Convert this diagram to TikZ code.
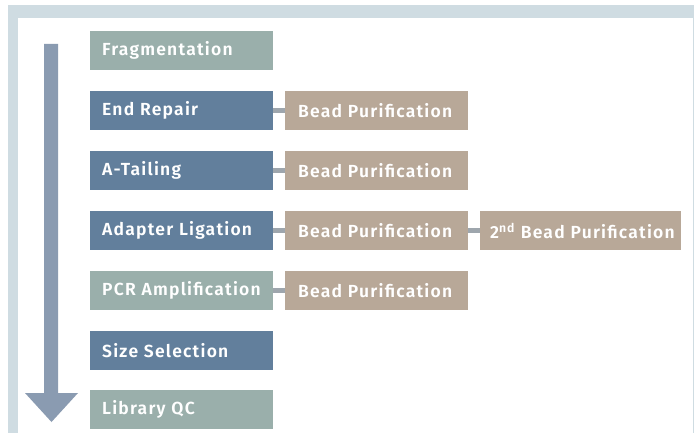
\documentclass[tikz,border=0pt]{standalone}
\usepackage{fontspec}
\setmainfont{Fira Sans}[BoldFont={Fira Sans SemiBold}, BoldFeatures={LetterSpace=7}]
\definecolor{frame}{HTML}{CFDCE2}
\definecolor{sage}{HTML}{9AAFAB}
\definecolor{steel}{HTML}{627F9C}
\definecolor{taupe}{HTML}{B8A898}
\definecolor{conn}{HTML}{9EA6AD}
\definecolor{arrowc}{HTML}{8A9BB1}
\tikzset{
  box/.style={anchor=north west, minimum height=39pt, inner xsep=12pt, inner ysep=0pt,
    text=white, font=\fontsize{17.5}{19}\selectfont\bfseries, align=left},
  mainbox/.style={box, text width=159pt},
  sagebox/.style={mainbox, fill=sage},
  steelbox/.style={mainbox, fill=steel},
  beadbox/.style={box, fill=taupe, text width=157pt, inner xsep=13pt},
  bead2box/.style={box, fill=taupe, text width=181pt, inner xsep=10pt},
  connline/.style={draw=conn, line width=4.5pt},
}
\begin{document}
\begin{tikzpicture}[x=1pt,y=-1pt]
\useasboundingbox (0,0) rectangle (694,433);
\fill[white] (0,0) rectangle (694,433);
\fill[frame] (8,5) rectangle (694,433);
\fill[white] (18,18) rectangle (692.5,433);
% arrow
\fill[arrowc] (44,44) -- (58,44) -- (58,393) -- (78,393) -- (51.5,422) -- (25,393) -- (44,393) -- cycle;
% main column
\node[sagebox]  (frag) at (90,31)  {Fragmentation};
\node[steelbox] (er)   at (90,91)  {End Repair};
\node[steelbox] (at)   at (90,151) {A-Tailing};
\node[steelbox] (al)   at (90,211) {Adapter Ligation};
\node[sagebox]  (pcr)  at (90,271) {PCR Amplification};
\node[steelbox] (ss)   at (90,331) {Size Selection};
\node[sagebox]  (qc)   at (90,390) {Library QC};
% bead purifications
\node[beadbox] (bp1) at (285,91)  {Bead Purification};
\node[beadbox] (bp2) at (285,151) {Bead Purification};
\node[beadbox] (bp3) at (285,211) {Bead Purification};
\node[bead2box] (bp4) at (480,211) {2\textsuperscript{nd} Bead Purification};
\node[beadbox] (bp5) at (285,271) {Bead Purification};
% connectors
\draw[connline] (er.east) -- (bp1.west);
\draw[connline] (at.east) -- (bp2.west);
\draw[connline] (al.east) -- (bp3.west);
\draw[connline] (bp3.east) -- (bp4.west);
\draw[connline] (pcr.east) -- (bp5.west);
\end{tikzpicture}
\end{document}
